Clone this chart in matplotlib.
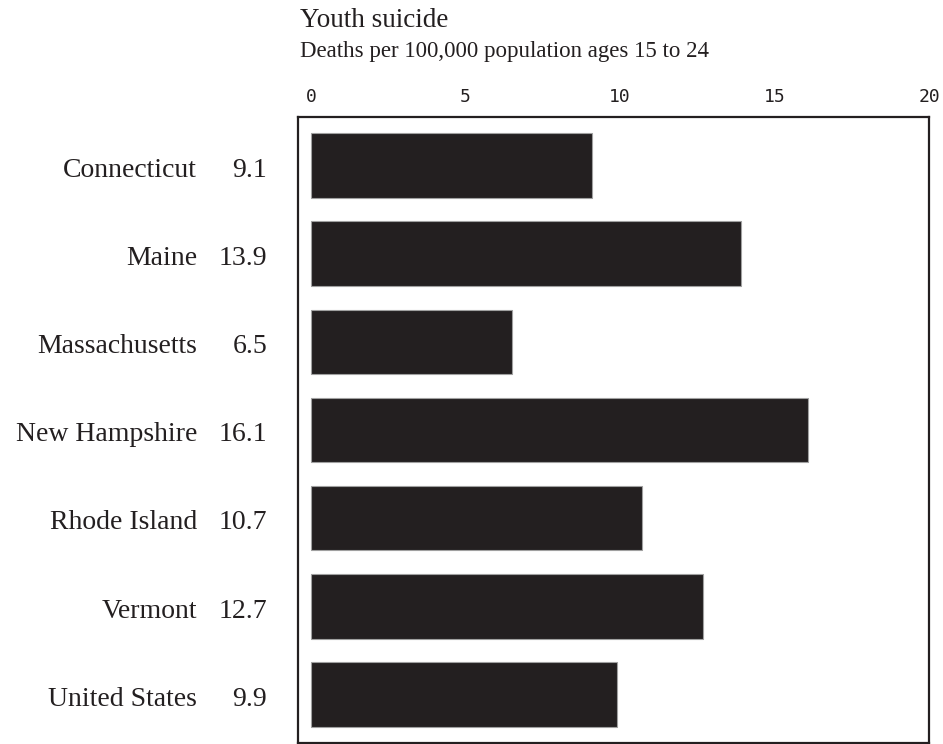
import matplotlib
matplotlib.use("Agg")
import matplotlib.pyplot as plt

# data
states = ["Connecticut", "Maine", "Massachusetts", "New Hampshire",
          "Rhode Island", "Vermont", "United States"]
rates = [9.1, 13.9, 6.5, 16.1, 10.7, 12.7, 9.9]
xticks = [0, 5, 10, 15, 20]

ink = "#231f20"
serif = "Liberation Serif"

fig = plt.figure(figsize=(9.43, 7.44), dpi=100)
ax = fig.add_axes([298 / 943, 1 / 744, 631 / 943, 626 / 744])

ypos = list(range(len(states)))
ax.barh(ypos, rates, height=0.73, color=ink, edgecolor="#a0a0a0", linewidth=0.8)

ax.set_xlim(-0.42, 20)
ax.set_ylim(6.55, -0.55)
ax.set_yticks([])
ax.xaxis.tick_top()
ax.set_xticks(xticks)
ax.set_xticklabels([str(t) for t in xticks], family="DejaVu Sans Mono",
                   fontsize=13, color=ink)
ax.tick_params(axis="x", length=0, pad=8)
for side in ax.spines.values():
    side.set_color(ink)
    side.set_linewidth(1.6)

# row labels and values, left of the box
for y, name, v in zip(ypos, states, rates):
    ax.text(-0.160, y + 0.02, name, transform=ax.get_yaxis_transform(),
            ha="right", va="center_baseline", family=serif, fontsize=20, color=ink)
    ax.text(-0.049, y + 0.02, f"{v:.1f}", transform=ax.get_yaxis_transform(),
            ha="right", va="center_baseline", family=serif, fontsize=20, color=ink)

fig.text(300 / 943, 1 - 27 / 744, "Youth suicide", family=serif,
         fontsize=19.5, color=ink, va="baseline", ha="left")
fig.text(300 / 943, 1 - 57 / 744, "Deaths per 100,000 population ages 15 to 24",
         family=serif, fontsize=16.5, color=ink, va="baseline", ha="left")

fig.savefig("out.png", dpi=100)
